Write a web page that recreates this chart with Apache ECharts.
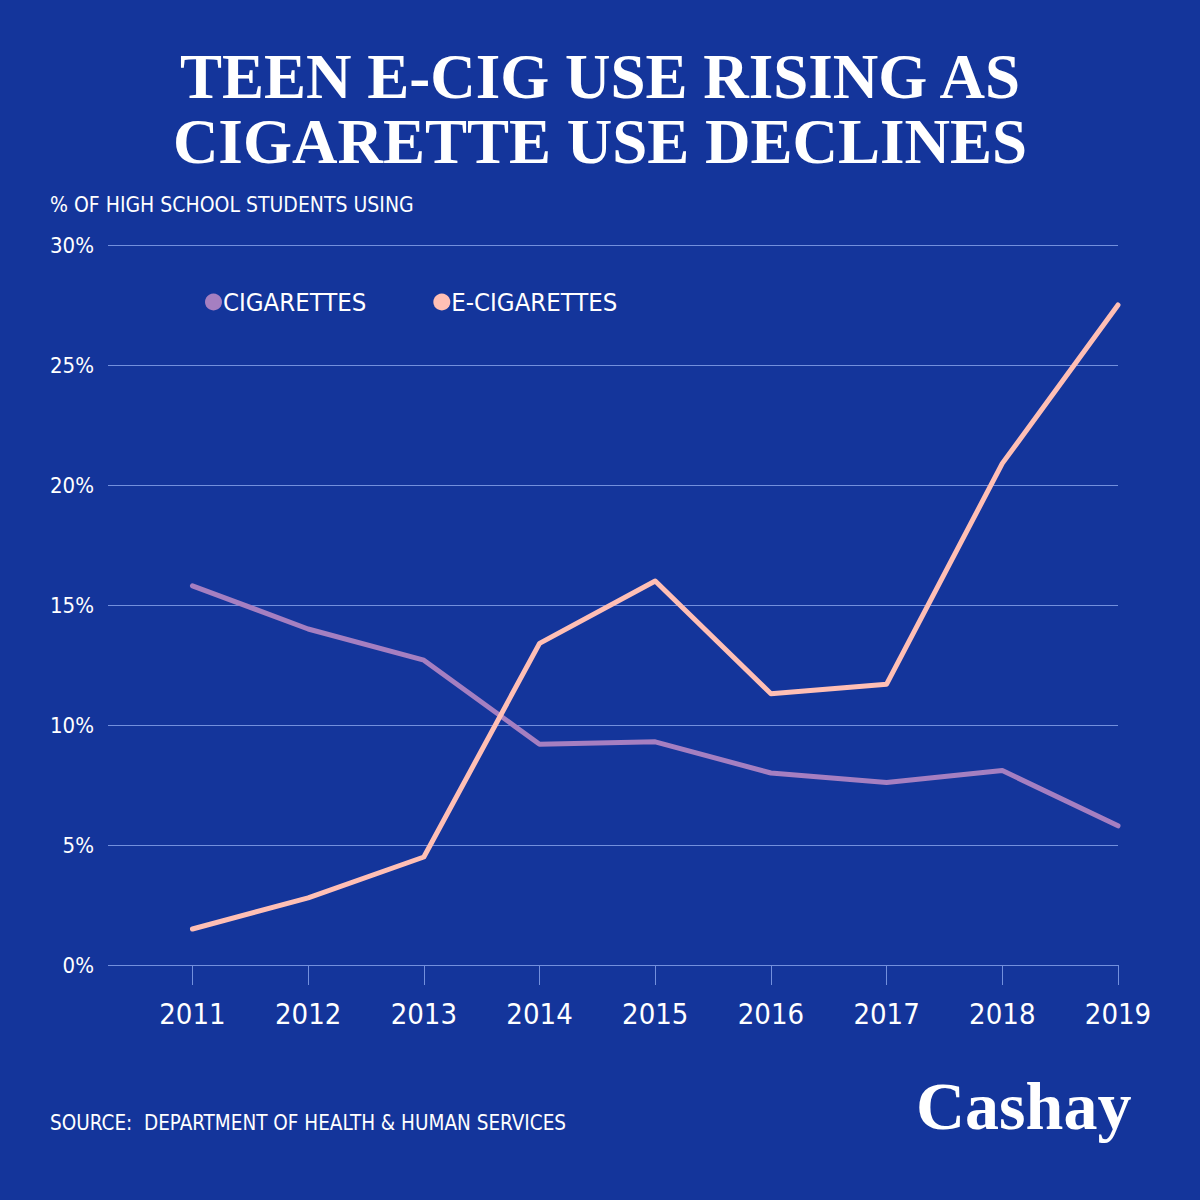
<!DOCTYPE html>
<html>
<head>
<meta charset="utf-8">
<script src="https://cdn.jsdelivr.net/npm/echarts@6/dist/echarts.min.js"></script>
<style>
  html, body { margin: 0; padding: 0; background: #14359b; }
  #chart { width: 1200px; height: 1200px; }
</style>
</head>
<body>
<div id="chart"></div>
<script>
var years = [2011, 2012, 2013, 2014, 2015, 2016, 2017, 2018, 2019];
var cigarettes = [15.8, 14.0, 12.7, 9.2, 9.3, 8.0, 7.6, 8.1, 5.8];
var eCigarettes = [1.5, 2.8, 4.5, 13.4, 16.0, 11.3, 11.7, 20.9, 27.5];
var yTicks = [0, 5, 10, 15, 20, 25, 30];

var bg = '#14359b';
var white = '#ffffff';
var purple = '#a57fc1';
var pink = '#ffbfb5';
var gridColor = '#7390dd';
var condensed = '"DejaVu Sans Condensed", "Liberation Sans Narrow", sans-serif';
var serif = '"Liberation Serif", "DejaVu Serif", serif';
var headStyle = { color: white, fontFamily: serif, fontWeight: 'bold', fontSize: 63, lineHeight: 63 };

function pairs(vals) {
  return years.map(function(y, i) { return [y, vals[i]]; });
}

var chart = echarts.init(document.getElementById('chart'), null, { renderer: 'svg' });
chart.setOption({
  animation: false,
  backgroundColor: bg,
  title: [
    { text: 'TEEN E-CIG USE RISING AS', left: 'center', top: 45, padding: 0, textStyle: headStyle },
    { text: 'CIGARETTE USE DECLINES', left: 'center', top: 110, padding: 0, textStyle: headStyle },
    {
      text: '% OF HIGH SCHOOL STUDENTS USING',
      left: 50,
      top: 194,
      padding: 0,
      textStyle: { color: white, fontFamily: condensed, fontWeight: 'normal', fontSize: 21 }
    },
    {
      text: 'SOURCE:  DEPARTMENT OF HEALTH & HUMAN SERVICES',
      left: 50,
      top: 1112,
      padding: 0,
      textStyle: { color: white, fontFamily: condensed, fontWeight: 'normal', fontSize: 20.5 }
    },
    {
      text: 'Cashay',
      left: 916,
      top: 1072,
      padding: 0,
      textStyle: { color: white, fontFamily: serif, fontWeight: 'bold', fontSize: 68 }
    }
  ],
  legend: {
    left: 205,
    top: 289,
    padding: 0,
    itemGap: 67,
    itemWidth: 17,
    itemHeight: 17,
    icon: 'circle',
    textStyle: { color: white, fontFamily: condensed, fontSize: 25.5, padding: [0, 0, 0, -4] },
    data: ['CIGARETTES', 'E-CIGARETTES']
  },
  grid: { left: 108, right: 82, top: 245, bottom: 235 },
  xAxis: {
    type: 'value',
    min: 2010.27,
    max: 2019,
    axisLine: { show: false },
    splitLine: { show: false },
    axisTick: {
      show: true,
      customValues: years,
      length: 20,
      lineStyle: { color: gridColor, width: 1 }
    },
    axisLabel: {
      customValues: years,
      color: white,
      fontFamily: condensed,
      fontSize: 29,
      margin: 34,
      formatter: function(v) { return String(v); }
    }
  },
  yAxis: {
    type: 'value',
    min: 0,
    max: 30,
    interval: 5,
    axisLine: { show: false },
    axisTick: { show: false },
    splitLine: { lineStyle: { color: gridColor, width: 1 } },
    axisLabel: {
      color: white,
      fontFamily: condensed,
      fontSize: 22,
      margin: 14,
      customValues: yTicks,
      formatter: '{value}%'
    }
  },
  series: [
    {
      name: 'CIGARETTES',
      type: 'line',
      data: pairs(cigarettes),
      symbol: 'none',
      itemStyle: { color: purple },
      lineStyle: { color: purple, width: 5, cap: 'round', join: 'round' }
    },
    {
      name: 'E-CIGARETTES',
      type: 'line',
      data: pairs(eCigarettes),
      symbol: 'none',
      itemStyle: { color: pink },
      lineStyle: { color: pink, width: 5, cap: 'round', join: 'round' }
    }
  ]
});
</script>
</body>
</html>
